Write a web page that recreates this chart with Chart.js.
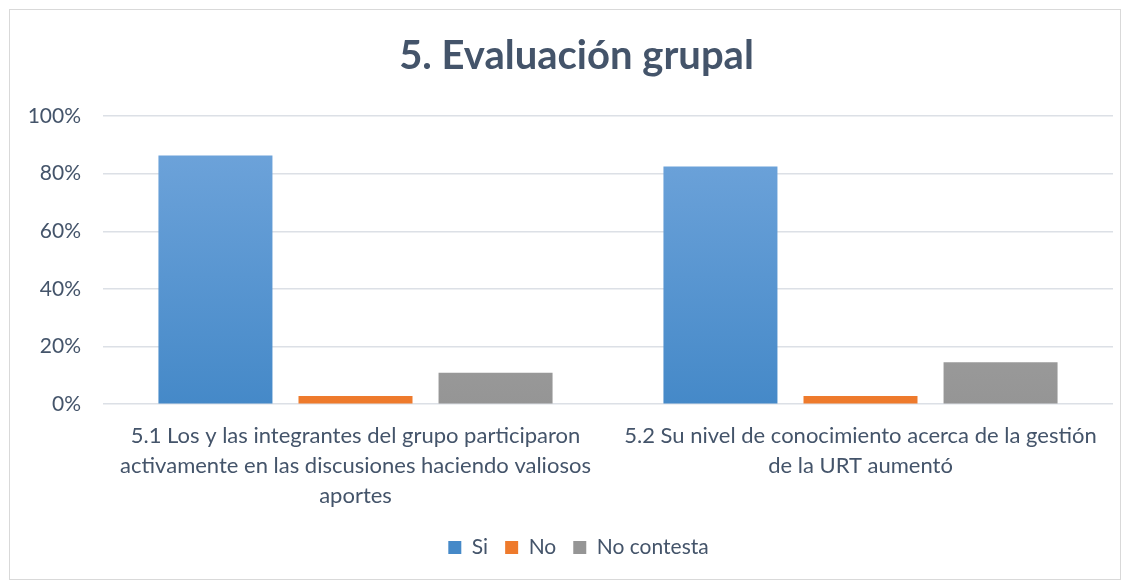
<!DOCTYPE html>
<html>
<head>
<meta charset="utf-8">
<script src="https://cdn.jsdelivr.net/npm/chart.js@4"></script>
<style>
  html, body { margin: 0; padding: 0; background: #fff; }
  .wrap { position: relative; width: 1135px; height: 581px; }
  .frame { position: absolute; left: 9px; top: 9px; width: 1110px; height: 569px; border: 1px solid #D9D9D9; }
  canvas { position: absolute; left: 0; top: 0; }
</style>
</head>
<body>
<div class="wrap">
  <div class="frame"></div>
  <canvas id="chart" width="1135" height="581"></canvas>
</div>
<script>
// Data
var categories = [
    ['5.1 Los y las integrantes del grupo participaron', 'activamente en las discusiones haciendo valiosos', 'aportes'],
    ['5.2 Su nivel de conocimiento acerca de la gestión', 'de la URT aumentó']
]
var seriesNames = ['Si', 'No', 'No contesta']
var siValues = [86.3, 82.5]
var noValues = [2.9, 2.9]
var noContestaValues = [10.9, 14.6]
var yTicks = [0, 20, 40, 60, 80, 100]

var textColor = '#44546A'
var font = 'Lato'

// top / bottom colours of each bar gradient
var gradColors = [
    ['#72A6DC', '#4589C8'],
    ['#F4883F', '#EE7A2C'],
    ['#AFAFAF', '#959595']
]

function grad(idx) {
    return function (ctx) {
        var chart = ctx.chart
        var area = chart.chartArea
        if (!area) return gradColors[idx][1]
        var g = chart.ctx.createLinearGradient(0, area.top, 0, area.bottom)
        g.addColorStop(0, gradColors[idx][0])
        g.addColorStop(1, gradColors[idx][1])
        return g
    }
}

// title and legend sit a little right of the canvas centre in the original
var nudge = {
    id: 'nudge',
    afterLayout(chart) {
        var t = chart.titleBlock
        var l = chart.legend
        if (t) { t.left += 15; t.right += 15 }
        if (l) { l.left += 17; l.right += 17 }
    }
}

var datasets = [siValues, noValues, noContestaValues].map((vals, i) => ({
    label: seriesNames[i],
    data: vals,
    backgroundColor: grad(i),
    barPercentage: 0.814,
    categoryPercentage: 0.832
}))

new Chart(document.getElementById('chart'), {
    type: 'bar',
    data: {
        labels: categories,
        datasets: datasets
    },
    plugins: [nudge],
    options: {
        responsive: false,
        animation: false,
        layout: {
            padding: { left: 10, right: 22, top: 14, bottom: 13 }
        },
        plugins: {
            title: {
                display: true,
                text: '5. Evaluación grupal',
                color: textColor,
                font: { family: font, size: 40, weight: 'bold' },
                padding: { top: 18, bottom: 36 }
            },
            legend: {
                position: 'bottom',
                labels: {
                    color: textColor,
                    font: { family: font, size: 21 },
                    boxWidth: 13,
                    boxHeight: 13,
                    padding: 17,
                    generateLabels: function (chart) {
                        return seriesNames.map((name, i) => ({
                            text: name,
                            fillStyle: gradColors[i][1],
                            strokeStyle: gradColors[i][1],
                            lineWidth: 0,
                            datasetIndex: i,
                            fontColor: textColor
                        }))
                    }
                }
            },
            tooltip: { enabled: false }
        },
        scales: {
            x: {
                grid: { display: false },
                border: { display: false },
                ticks: {
                    color: textColor,
                    font: { family: font, size: 22, lineHeight: 1.36 },
                    maxRotation: 0,
                    autoSkip: false,
                    padding: 9
                }
            },
            y: {
                min: 0,
                max: 100,
                afterFit: function (scale) { scale.width = 93 },
                afterBuildTicks: function (scale) {
                    scale.ticks = yTicks.map(v => ({ value: v }))
                },
                grid: { color: '#DCE0E6', lineWidth: 1.5, drawTicks: false },
                border: { display: false },
                ticks: {
                    color: textColor,
                    font: { family: font, size: 21 },
                    padding: 22,
                    callback: v => v + '%'
                }
            }
        }
    }
})
</script>
</body>
</html>
